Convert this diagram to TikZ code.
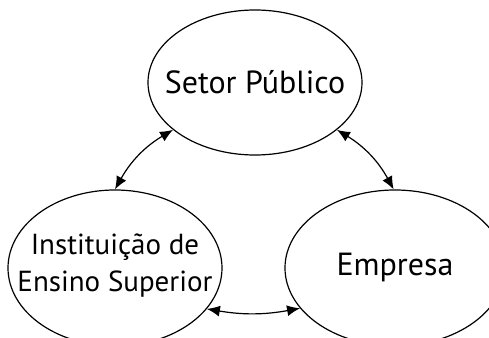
\documentclass[tikz,border=0pt]{standalone}
\usepackage{fontspec}
\setmainfont{PT Sans}
\usetikzlibrary{shapes.geometric,arrows.meta}

\begin{document}
\begin{tikzpicture}[x=1pt,y=1pt,
    actor/.style={draw, ellipse, line width=0.6pt, inner sep=0pt},
    txt/.style={font=\fontsize{16}{19}\selectfont, align=center},
    link/.style={{Latex[length=6.5pt,width=5.5pt]}-{Latex[length=6.5pt,width=5.5pt]}, line width=0.6pt}]
    \useasboundingbox (0,0) rectangle (244.5,169);
    \node[actor, minimum width=107pt, minimum height=72.5pt, label={[txt]center:Setor Público}] (setor) at (127.5,127.75) {};
    \node[actor, minimum width=107pt, minimum height=78pt, label={[txt, font=\fontsize{14.5}{18.5}\selectfont, yshift=1pt]center:Instituição de\\Ensino Superior}] (ies) at (57.5,35) {};
    \node[actor, minimum width=110pt, minimum height=78pt, label={[txt]center:Empresa}] (empresa) at (197.5,35) {};
    \draw[link] (setor.210) to[bend right=15] (ies.90);
    \draw[link] (setor.330) to[bend left=15] (empresa.91);
    \draw[link] (ies.336) to[bend right=10] (empresa.203);
  \end{tikzpicture}
\end{document}
